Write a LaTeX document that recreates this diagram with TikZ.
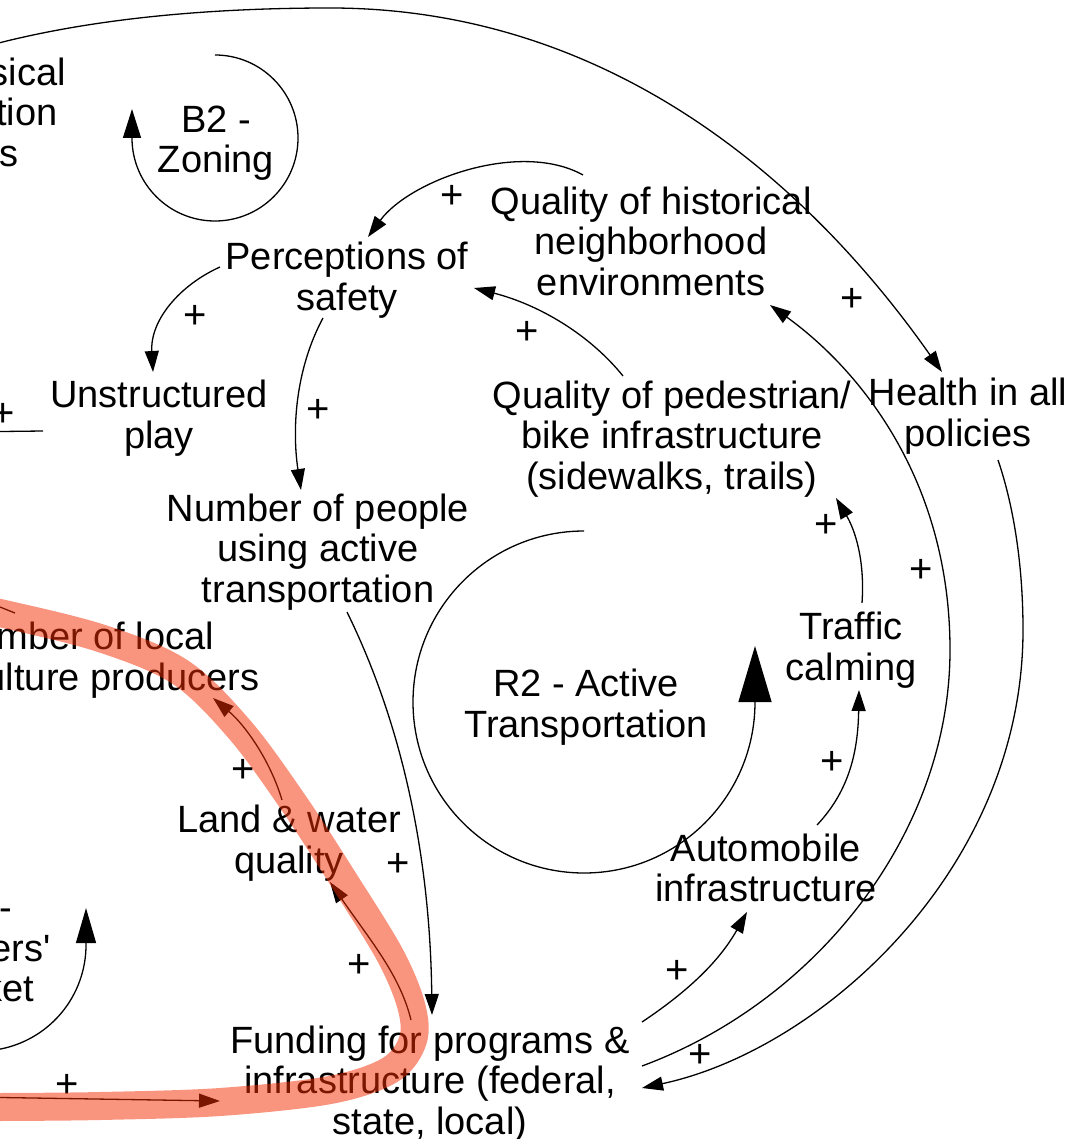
\documentclass[tikz,border=0pt]{standalone}
\usepackage{fontspec}
\setmainfont{Liberation Sans}
\usetikzlibrary{arrows.meta,calc}
\definecolor{bandred}{RGB}{245,45,0}
\begin{document}
\begin{tikzpicture}[x=1pt,y=-1pt, line width=1.3pt,
  var/.style={align=center, inner sep=0pt, font=\fontsize{38}{40.5}\selectfont},
  pol/.style={inner sep=0pt, font=\fontsize{40}{40}\selectfont},
  link/.style={-{Triangle[length=21pt,width=14pt]}},
  band/.style={line width=28pt, draw=bandred, draw opacity=0.5, line cap=round, line join=round}
]
\path[use as bounding box] (0,0) rectangle (1068,1139);
\fill[white] (0,0) rectangle (1068,1139);
\clip (0,0) rectangle (1068,1139);

% variables
\node[var] (phys) at (-90.5,116) {Access to physical\\activity/recreation\\opportunities};
\node[var] (b2) at (216,143) {B2 -\\Zoning};
\node[var] (percep) at (347,280) {Perceptions of\\safety};
\node[var] (hist) at (651,241) {Quality of historical\\neighborhood\\environments};
\node[var] (unst) at (159,418) {Unstructured\\play};
\node[var] (numppl) at (318,552) {Number of people\\using active\\transportation};
\node[var] (ped) at (672,439) {Quality of pedestrian/\\bike infrastructure\\(sidewalks, trails)};
\node[var] (health) at (968,416) {Health in all\\policies};
\node[var] (r2) at (586,707) {R2 - Active\\Transportation};
\node[var] (traffic) at (851,650) {Traffic\\calming};
\node[var] (local) at (81,660) {Number of local\\agriculture producers};
\node[var] (land) at (289,843) {Land \& water\\quality};
\node[var] (fund) at (430,1084) {Funding for programs \&\\infrastructure (federal,\\state, local)};
\node[var] (auto) at (766,868) {Automobile\\infrastructure};
\node[var] (r3) at (-24,948) {R3 -\\Farmers\textquotesingle\\Market};

% free ends off the picture
\coordinate (offunst) at (-40,432);
\coordinate (offlocal) at (-30,595);
\coordinate (offfund) at (-30,1097);

% loop markers
\draw[-{Triangle[length=29pt,width=18pt]}] (215,55) arc[start angle=-90, end angle=180, radius=83] -- ++(0,-29);
\draw[-{Triangle[length=56pt,width=33pt]}] (584,531) arc[start angle=-90, end angle=-360, radius=171] -- ++(0,-56);
\draw[-{Triangle[length=35pt,width=20pt]}] (-38.4,1049.4) arc[start angle=100, end angle=0, radius=106] -- ++(0,-37);

% connectors
\draw[link] ([shift={(70.5,-68)}]phys.center) .. controls (80,20) and (200,8) .. (330,8)
  .. controls (600,8) and (800,170) .. ([shift={(-26,-44)}]health.center);
\draw[link] ([shift={(30,44)}]health.center) .. controls (1015,510) and (1023,570) .. (1023,630)
  .. controls (1023,870) and (820,1050) .. ([shift={(212,4)}]fund.center);
\draw[link] ([shift={(212,-18)}]fund.center) .. controls (820,1000) and (950,830) .. (950,650)
  .. controls (950,480) and (860,370) .. ([shift={(119,64)}]hist.center);
\draw[link] ([shift={(-68,-66)}]hist.center) .. controls (520,140) and (410,180) .. ([shift={(21,-43)}]percep.center);
\draw[link] ([shift={(-127,-13)}]percep.center) .. controls (180,285) and (150,320) .. ([shift={(-6,-46)}]unst.center);
\draw[link] ([shift={(-24,38)}]percep.center) .. controls (295,370) and (292,430) .. ([shift={(-17,-62)}]numppl.center);
\draw[link] ([shift={(-49,-63)}]ped.center) .. controls (590,335) and (540,305) .. ([shift={(127,8)}]percep.center);
\draw[link] ([shift={(11,-47)}]traffic.center) .. controls (865,560) and (855,530) .. ([shift={(164,59)}]ped.center);
\draw[link] ([shift={(51,-43)}]auto.center) .. controls (850,790) and (858,750) .. ([shift={(8,40)}]traffic.center);
\draw[link] ([shift={(212,-62)}]fund.center) .. controls (690,990) and (720,960) .. ([shift={(-19,44)}]auto.center);
\draw[link] ([shift={(29,60)}]numppl.center) .. controls (400,720) and (430,850) .. ([shift={(2,-69)}]fund.center);
\draw[link] ([shift={(-7,-43)}]land.center) .. controls (270,760) and (245,725) .. ([shift={(132,38)}]local.center);
\draw[link] ([shift={(-19,-64)}]fund.center) .. controls (400,975) and (370,940) .. ([shift={(41,39)}]land.center);
\draw[link] (offfund) -- ([shift={(-210,17)}]fund.center);
\draw[link] ([shift={(-116,13)}]unst.center) -- (offunst);
\draw[link] ([shift={(-66,-47)}]local.center) -- (offlocal);

% polarities
\node[pol] (p1) at (452,197) {+};
\node[pol] (p2) at (195,317) {+};
\node[pol] (p3) at (318,411) {+};
\node[pol] (p4) at (527,333) {+};
\node[pol] (p5) at (852,300) {+};
\node[pol] (p6) at (3,415) {+};
\node[pol] (p7) at (826,526) {+};
\node[pol] (p8) at (921,571) {+};
\node[pol] (p9) at (832,763) {+};
\node[pol] (p10) at (677,972) {+};
\node[pol] (p11) at (700,1056) {+};
\node[pol] (p12) at (243,771) {+};
\node[pol] (p13) at (398,865) {+};
\node[pol] (p14) at (359,966) {+};
\node[pol] (p15) at (67,1086) {+};

% highlighted loop
\draw[band] plot[smooth, tension=0.55] coordinates {(-40,605) (0,613) (100,638) (180,672) (240,730) (295,805) (345,882) (390,955) (411,1005) (413,1040) (390,1070) (330,1090) (220,1102) (100,1106) (0,1107) (-40,1107)};
\end{tikzpicture}
\end{document}
